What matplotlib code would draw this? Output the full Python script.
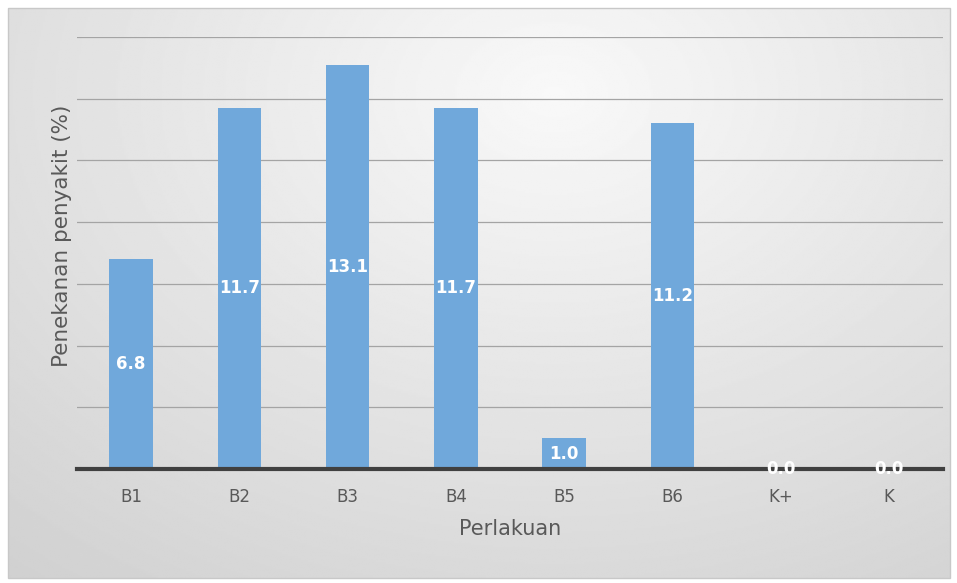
import numpy as np
import matplotlib
matplotlib.use("Agg")
import matplotlib.pyplot as plt
from matplotlib.patches import Rectangle

perlakuan = ["B1", "B2", "B3", "B4", "B5", "B6", "K+", "K"]
penekanan = [6.8, 11.7, 13.1, 11.7, 1.0, 11.2, 0.0, 0.0]

plt.rcParams["font.family"] = ["DejaVu Sans"]

fig = plt.figure(figsize=(9.57, 5.83), dpi=100)
fig.patch.set_facecolor("white")

# radial gray background inside the chart frame
bg = fig.add_axes([8 / 957, 5 / 583, 942 / 957, 570 / 583])
yy, xx = np.mgrid[0:1:300j, 0:1:500j]
r = np.sqrt(((xx - 0.58) / 0.75) ** 2 + ((yy - 0.85) / 0.9) ** 2)
shade = 0.975 - 0.13 * np.clip(r, 0, 1.3)
bg.imshow(shade, cmap="gray", vmin=0, vmax=1, extent=[0, 1, 0, 1],
          aspect="auto", origin="lower")
bg.set_axis_off()
fig.patches.append(Rectangle((8 / 957, 5 / 583), 942 / 957, 570 / 583,
                             transform=fig.transFigure, fill=False,
                             edgecolor="#c8c8c8", linewidth=1.0))

ax = fig.add_axes([77 / 957, 114 / 583, 866 / 957, 432 / 583])
ax.set_facecolor("none")
x = np.arange(len(perlakuan))
bars = ax.bar(x, penekanan, width=0.4, color="#70a8db", zorder=3)

ax.set_ylim(0, 14)
ax.set_xlim(-0.5, len(perlakuan) - 0.5)
ax.set_yticks(np.arange(0, 15, 2))
ax.yaxis.grid(True, color="#a4a4a4", linewidth=0.9, zorder=0)
ax.tick_params(axis="y", left=False, labelleft=False)
ax.tick_params(axis="x", length=0, pad=14, labelsize=12, labelcolor="#595959")
ax.set_xticks(x)
ax.set_xticklabels(perlakuan)
for s in ["top", "right", "left"]:
    ax.spines[s].set_visible(False)
ax.spines["bottom"].set_color("#404040")
ax.spines["bottom"].set_linewidth(3)
ax.spines["bottom"].set_zorder(4)

for b, v in zip(bars, penekanan):
    ax.text(b.get_x() + b.get_width() / 2, v / 2, f"{v:.1f}", ha="center",
            va="center", color="white", fontsize=12, fontweight="bold",
            zorder=5)

ax.set_xlabel("Perlakuan", fontsize=15, color="#595959", labelpad=9)
ax.set_ylabel("Penekanan penyakit (%)", fontsize=15.5, color="#595959")
ax.yaxis.set_label_coords(-0.006, 0.54)

fig.savefig("out.png", dpi=100)
